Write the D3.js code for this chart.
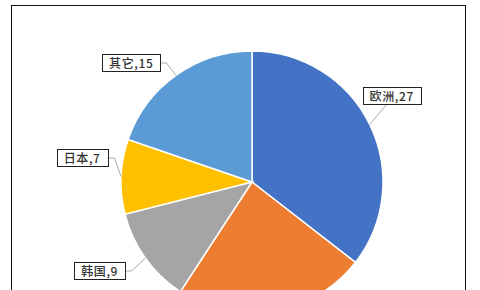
<!DOCTYPE html>
<html>
<head>
<meta charset="utf-8">
<script src="https://cdn.jsdelivr.net/npm/d3@7"></script>
<style>
  body { margin: 0; background: #fff; }
  svg { display: block; }
</style>
</head>
<body>
<div id="chart"></div>
<script>
// chart data
const categories = ["欧洲", "美国", "韩国", "日本", "其它"]
const values = [27, 18, 9, 7, 15]
const colors = ["#4472C4", "#ED7D31", "#A5A5A5", "#FFC000", "#5B9BD5"]

// layout
const width = 480
const height = 290
const center = { x: 252, y: 182 }
const radius = 131
const label_radius = 170
// best-fit style shifts of the label boxes (px)
const label_shift = [[-13, -12], [0, 0], [-14, -10], [0, -17], [-22, 19]]

const svg = d3.select("#chart")
  .append("svg")
  .attr("width", width)
  .attr("height", height)

// outer frame
svg.append("rect")
  .attr("x", 11.5)
  .attr("y", 5.5)
  .attr("width", 454)
  .attr("height", 320)
  .attr("fill", "#fff")
  .attr("stroke", "#111")
  .attr("stroke-width", 1)

const pie = d3.pie()
  .sort(null)
  .value(d => d)
  .startAngle(0)
  .endAngle(2 * Math.PI)

const arcs = pie(values)

const arc = d3.arc()
  .innerRadius(0)
  .outerRadius(radius)

const g = svg.append("g")
  .attr("transform", `translate(${center.x},${center.y})`)

g.selectAll("path.slice")
  .data(arcs)
  .join("path")
  .attr("class", "slice")
  .attr("d", arc)
  .attr("fill", (d, i) => colors[i])
  .attr("stroke", "#fff")
  .attr("stroke-width", 1.5)

// labels with leader lines
const labels = g.append("g")

arcs.forEach((d, i) => {
  const mid = (d.startAngle + d.endAngle) / 2
  const edge = [radius * Math.sin(mid), -radius * Math.cos(mid)]
  const lx = label_radius * Math.sin(mid) + label_shift[i][0]
  const ly = -label_radius * Math.cos(mid) + label_shift[i][1]

  // the label of the bottom slice lies below the visible frame
  if (center.y + ly > height) return

  const lg = labels.append("g")
  const box = lg.append("rect")
  const text = lg.append("text")
    .attr("x", lx)
    .attr("y", ly)
    .attr("text-anchor", "middle")
    .attr("dominant-baseline", "central")
    .style("font-family", "'Noto Sans CJK SC', 'Noto Sans', sans-serif")
    .style("font-size", "12px")
    .style("font-weight", "500")
    .style("letter-spacing", "0.6px")
    .style("fill", "#333")
    .text(categories[i] + "," + values[i])

  const tw = text.node().getComputedTextLength()
  const bw = Math.round(tw + 14)
  const bh = 17
  const x0 = Math.round(lx - bw / 2) + 0.5
  const y0 = Math.round(ly - bh / 2) + 0.5
  box.attr("x", x0)
    .attr("y", y0)
    .attr("width", bw)
    .attr("height", bh)
    .attr("fill", "#fff")
    .attr("stroke", "#222")
    .attr("stroke-width", 1)

  // attach point on the box
  let pts
  if (edge[0] > x0 + bw) {
    const sx = x0 + bw
    const sy = y0 + bh / 2
    pts = [[sx, sy], [sx + 6, sy], edge]
  } else if (edge[0] < x0) {
    const sx = x0
    const sy = y0 + bh / 2
    pts = [[sx, sy], [sx - 6, sy], edge]
  } else {
    const sx = x0 + bw / 2 - 6
    const sy = edge[1] > y0 ? y0 + bh : y0
    pts = [[sx, sy], edge]
  }
  labels.insert("path", ":first-child")
    .attr("d", d3.line()(pts))
    .attr("fill", "none")
    .attr("stroke", "#aaa")
    .attr("stroke-width", 1)
})
</script>
</body>
</html>
